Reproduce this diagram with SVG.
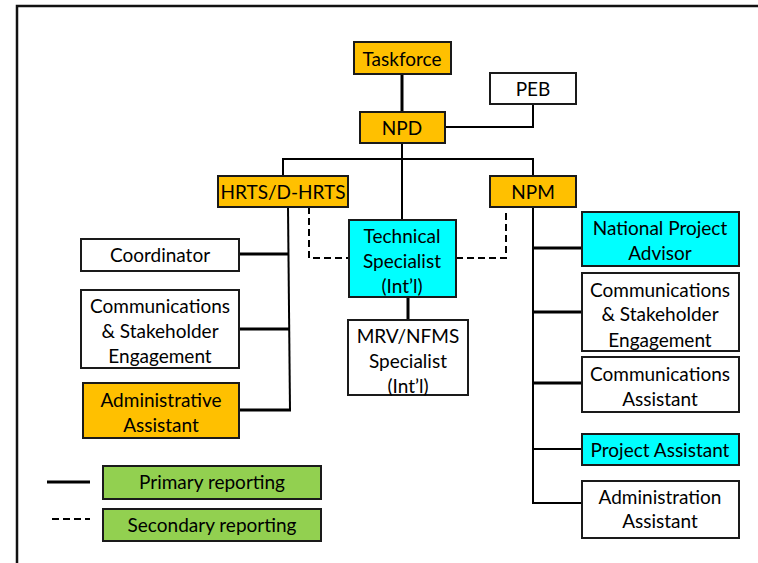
<svg xmlns="http://www.w3.org/2000/svg" width="758" height="563" viewBox="0 0 758 563">
<style>
.box{stroke:#1a1a1a;stroke-width:2}
.o{fill:#FFC000}.w{fill:#FFFFFF}.c{fill:#00FFFF}.g{fill:#92D050}
text{font-family:Lato,"Open Sans","Liberation Sans",sans-serif;font-size:19px;fill:#000;text-anchor:middle}
.thin{stroke:#000;stroke-width:2;fill:none}
.thick{stroke:#000;stroke-width:3;fill:none}
.dash{stroke:#000;stroke-width:2;fill:none;stroke-dasharray:7 4}
</style>
<rect x="0" y="0" width="758" height="563" fill="#fff"/>
<path d="M17 563 V6 H758" fill="none" stroke="#111" stroke-width="2.5"/>
<g id="connectors">
<path class="thick" d="M402 74 V112"/>
<path class="thin" d="M445 127 H533 V104"/>
<path class="thin" d="M402 143 V220"/>
<path class="thin" d="M283 176 V159 H533 V176"/>
<path class="thin" d="M288 207 L290 410"/>
<path class="thick" d="M239 254 H289"/>
<path class="thick" d="M239 329 H289"/>
<path class="thick" d="M239 410 H291"/>
<path class="dash" d="M309 207 V258 H349"/>
<path class="dash" d="M456 258 H506 V213"/>
<path class="thick" d="M408 297 V320"/>
<path class="thin" d="M533 207 V503 H582"/>
<path class="thick" d="M533 248 H582"/>
<path class="thick" d="M533 312 H582"/>
<path class="thick" d="M533 383 H582"/>
<path class="thin" d="M533 449 H582"/>
</g>
<g id="taskforce"><rect class="box o" x="354" y="42" width="97" height="32"/><text x="402" y="66">Taskforce</text></g>
<g id="peb"><rect class="box w" x="490" y="73" width="86" height="31"/><text x="533" y="96">PEB</text></g>
<g id="npd"><rect class="box o" x="360" y="112" width="85" height="31"/><text x="402" y="135">NPD</text></g>
<g id="hrts"><rect class="box o" x="218" y="176" width="130" height="31"/><text x="283" y="199">HRTS/D-HRTS</text></g>
<g id="npm"><rect class="box o" x="490" y="176" width="86" height="31"/><text x="533" y="199">NPM</text></g>
<g id="technical-specialist"><rect class="box c" x="349" y="220" width="107" height="77"/><text x="402" y="243">Technical</text><text x="402" y="268">Specialist</text><text x="402" y="293">(Int’l)</text></g>
<g id="mrv"><rect class="box w" x="348" y="320" width="120" height="75"/><text x="408" y="343">MRV/NFMS</text><text x="408" y="368">Specialist</text><text x="408" y="393">(Int’l)</text></g>
<g id="coordinator"><rect class="box w" x="81" y="239" width="158" height="32"/><text x="160" y="262">Coordinator</text></g>
<g id="comm-left"><rect class="box w" x="81" y="290" width="158" height="78"/><text x="160" y="313">Communications</text><text x="160" y="338">&amp; Stakeholder</text><text x="160" y="363">Engagement</text></g>
<g id="admin-left"><rect class="box o" x="83" y="383" width="156" height="55"/><text x="161" y="407">Administrative</text><text x="161" y="432">Assistant</text></g>
<g id="npa"><rect class="box c" x="582" y="212" width="157" height="54"/><text x="660" y="235">National Project</text><text x="660" y="260">Advisor</text></g>
<g id="comm-right"><rect class="box w" x="582" y="273" width="157" height="78"/><text x="660" y="297">Communications</text><text x="660" y="321">&amp; Stakeholder</text><text x="660" y="347">Engagement</text></g>
<g id="comm-assistant"><rect class="box w" x="582" y="357" width="157" height="55"/><text x="660" y="381">Communications</text><text x="660" y="406">Assistant</text></g>
<g id="project-assistant"><rect class="box c" x="582" y="434" width="157" height="31"/><text x="660" y="457">Project Assistant</text></g>
<g id="admin-right"><rect class="box w" x="582" y="481" width="157" height="57"/><text x="660" y="504">Administration</text><text x="660" y="528">Assistant</text></g>
<g id="legend">
<path class="thick" d="M47 482 H90"/>
<path class="dash" d="M52 519 H90"/>
<rect class="box g" x="103" y="466" width="218" height="33"/><text x="212" y="489">Primary reporting</text>
<rect class="box g" x="103" y="509" width="218" height="32"/><text x="212" y="532">Secondary reporting</text>
</g>
</svg>
